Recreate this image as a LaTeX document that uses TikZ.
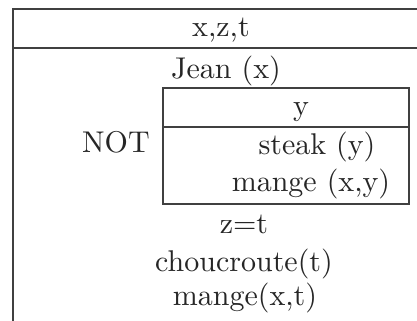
\documentclass[tikz,border=0pt]{standalone}

\begin{document}
\begin{tikzpicture}[x=0.3333pt, y=-0.3333pt,
    boxline/.style={draw=black!75, line width=0.7pt},
    drslabel/.style={anchor=base, inner sep=0pt, text=black!85}
]
    \useasboundingbox (0,0) rectangle (417,320);

    % Outer box (runs off the right and bottom)
    \draw[boxline] (13,324) -- (13,9) -- (422,9);
    \draw[boxline] (13,48) -- (422,48);

    % Inner box
    \draw[boxline] (163,88) rectangle (409,204);
    \draw[boxline] (163,127) -- (409,127);

    % Outer header and conditions
    \node[drslabel] (vars) at (221,36) {x,z,t};
    \node[drslabel] (jean) at (226,78) {Jean (x)};
    \node[drslabel] (neg) at (116,152) {NOT};

    % Inner box contents
    \node[drslabel] (innervar) at (301,115) {y};
    \node[drslabel] (steak) at (317,154) {steak (y)};
    \node[drslabel] (eatxy) at (311,191) {mange (x,y)};

    % Remaining conditions
    \node[drslabel] (eq) at (244,233) {z=t};
    \node[drslabel] (chou) at (244,271) {choucroute(t)};
    \node[drslabel] (eatxt) at (245,305) {mange(x,t)};

\end{tikzpicture}
\end{document}
